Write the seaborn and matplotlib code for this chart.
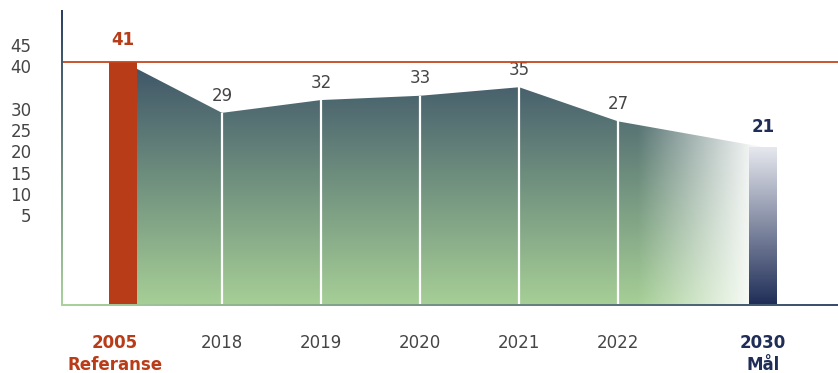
import numpy as np
import pandas as pd
import matplotlib
matplotlib.use("Agg")
import matplotlib.pyplot as plt
from matplotlib.colors import to_rgb
import seaborn as sns

# ---- data ----
years = ["2005", "2018", "2019", "2020", "2021", "2022", "2030"]
sublabels = ["Referanse", "", "", "", "", "", "Mål"]
values = [41, 29, 32, 33, 35, 27, 21]
ytick_vals = [5, 10, 15, 20, 25, 30, 40, 45]
reference_value = 41

# ---- layout ----
xpos = np.array([0, 1, 2, 3, 4, 5, 6.46])
BAR_W = 0.28
RED = "#b93c19"
NAVY = "#1f2d57"
GRAY = "#454545"
TOP_C = np.array(to_rgb("#3d5468"))
BOT_C = np.array(to_rgb("#a6cf96"))

sns.set_theme(style="white")
plt.rcParams["font.family"] = ["DejaVu Sans"]

W, H = 838, 373
fig = plt.figure(figsize=(W / 100, H / 100), dpi=100)
ax = fig.add_axes([62 / W, (H - 305) / H, (W - 62) / W, (305 - 10) / H])

ymin = -16.0
ymax = ymin + 295 / 4.27
xmin, xmax = -0.616, 7.22
ax.set_xlim(xmin, xmax)
ax.set_ylim(ymin, ymax)

# ---- gradient area ----
poly = ax.fill_between(xpos, values, ymin, color="none", lw=0, zorder=1)
nx, ny = 600, 300
gx = np.linspace(xmin, xmax, nx)
gy = np.linspace(ymax, ymin, ny)
t = np.clip((reference_value - gy) / (reference_value - ymin), 0, 1)[:, None, None]
img = TOP_C * (1 - t) + BOT_C * t
img = np.repeat(img, nx, axis=1)
fade = np.clip((gx - 5.2) / (6.35 - 5.2), 0, 1)[None, :, None] * 0.93
img = img * (1 - fade) + np.ones(3) * fade
im = ax.imshow(img, extent=[xmin, xmax, ymin, ymax], aspect="auto", zorder=1,
               interpolation="bilinear")
im.set_clip_path(poly.get_paths()[0], transform=ax.transData)

# white dividers
ax.vlines(xpos[1:-1], ymin, values[1:-1], colors="white", lw=1.6, zorder=2)

# ---- bars via seaborn ----
bar_df = pd.DataFrame({"x": [xpos[0], xpos[-1]], "v": [values[0], values[-1]]})
sns.barplot(data=bar_df, x="x", y="v", native_scale=True, errorbar=None,
            width=BAR_W / (xpos[-1] - xpos[0]), color=RED, ax=ax, zorder=3)
bars = ax.patches[-2:]
for b in bars:
    b.set_y(ymin)
    b.set_height(b.get_height() - ymin)
    b.set_linewidth(0)
bars[0].set_facecolor(RED)
bars[1].set_facecolor("none")
gb = np.linspace(0, 1, 200)[:, None, None]
bar_img = np.array(to_rgb("#e6e8ee")) * (1 - gb) + np.array(to_rgb(NAVY)) * gb
bar_img = np.repeat(bar_img, 2, axis=1)
ax.imshow(bar_img, extent=[xpos[-1] - BAR_W / 2, xpos[-1] + BAR_W / 2, ymin, values[-1]],
          aspect="auto", zorder=3, interpolation="bilinear")
ax.set_xlim(xmin, xmax)
ax.set_ylim(ymin, ymax)

# reference line
ax.axhline(reference_value, color="#c4461f", lw=1.3, zorder=4)

# ---- value labels ----
for i, (x, v) in enumerate(zip(xpos, values)):
    if i == 0:
        ax.annotate(str(v), (x, v), xytext=(0, 9), textcoords="offset points",
                    ha="center", va="bottom", fontsize=12, fontweight="bold", color=RED)
    elif i == len(values) - 1:
        ax.annotate(str(v), (x, v), xytext=(0, 8), textcoords="offset points",
                    ha="center", va="bottom", fontsize=12, fontweight="bold", color=NAVY)
    else:
        ax.annotate(str(v), (x, v), xytext=(0, 6), textcoords="offset points",
                    ha="center", va="bottom", fontsize=12, color=GRAY)

# ---- axes styling ----
for s in ax.spines.values():
    s.set_visible(False)
ax.set_xlabel("")
ax.set_ylabel("")
ax.set_xticks(xpos)
ax.set_xticklabels([])
ax.tick_params(axis="x", length=0)
ax.set_yticks(ytick_vals)
ax.set_yticklabels([str(v) for v in ytick_vals], fontsize=12, color=GRAY)
ax.tick_params(axis="y", length=0, pad=22)

# x labels
for i, (x, yr, sub) in enumerate(zip(xpos, years, sublabels)):
    if i == 0:
        c, w, dx = RED, "bold", -0.08
    elif i == len(years) - 1:
        c, w, dx = NAVY, "bold", 0
    else:
        c, w, dx = GRAY, "normal", 0
    ax.text(x + dx, -0.13, yr, transform=ax.get_xaxis_transform(), ha="center", va="center",
            fontsize=12, fontweight=w, color=c)
    if sub:
        ax.text(x + dx, -0.205, sub, transform=ax.get_xaxis_transform(), ha="center",
                va="center", fontsize=12, fontweight=w, color=c)

# gradient spines drawn as thin image strips
def strip(rect, c0, c1, vertical):
    sax = fig.add_axes(rect)
    sax.set_axis_off()
    tt = np.linspace(0, 1, 256)
    cols = np.array(to_rgb(c0))[None, :] * (1 - tt[:, None]) + np.array(to_rgb(c1))[None, :] * tt[:, None]
    arr = cols[:, None, :] if vertical else cols[None, :, :]
    sax.imshow(arr, aspect="auto", interpolation="bilinear")

strip([61 / W, (H - 305) / H, 2 / W, (305 - 10) / H], "#2c3f63", "#a9d39c", True)
strip([61 / W, (H - 306) / H, (W - 61) / W, 2 / H], "#a9d39c", "#3a4d6e", False)

fig.savefig("out.png", dpi=100)
